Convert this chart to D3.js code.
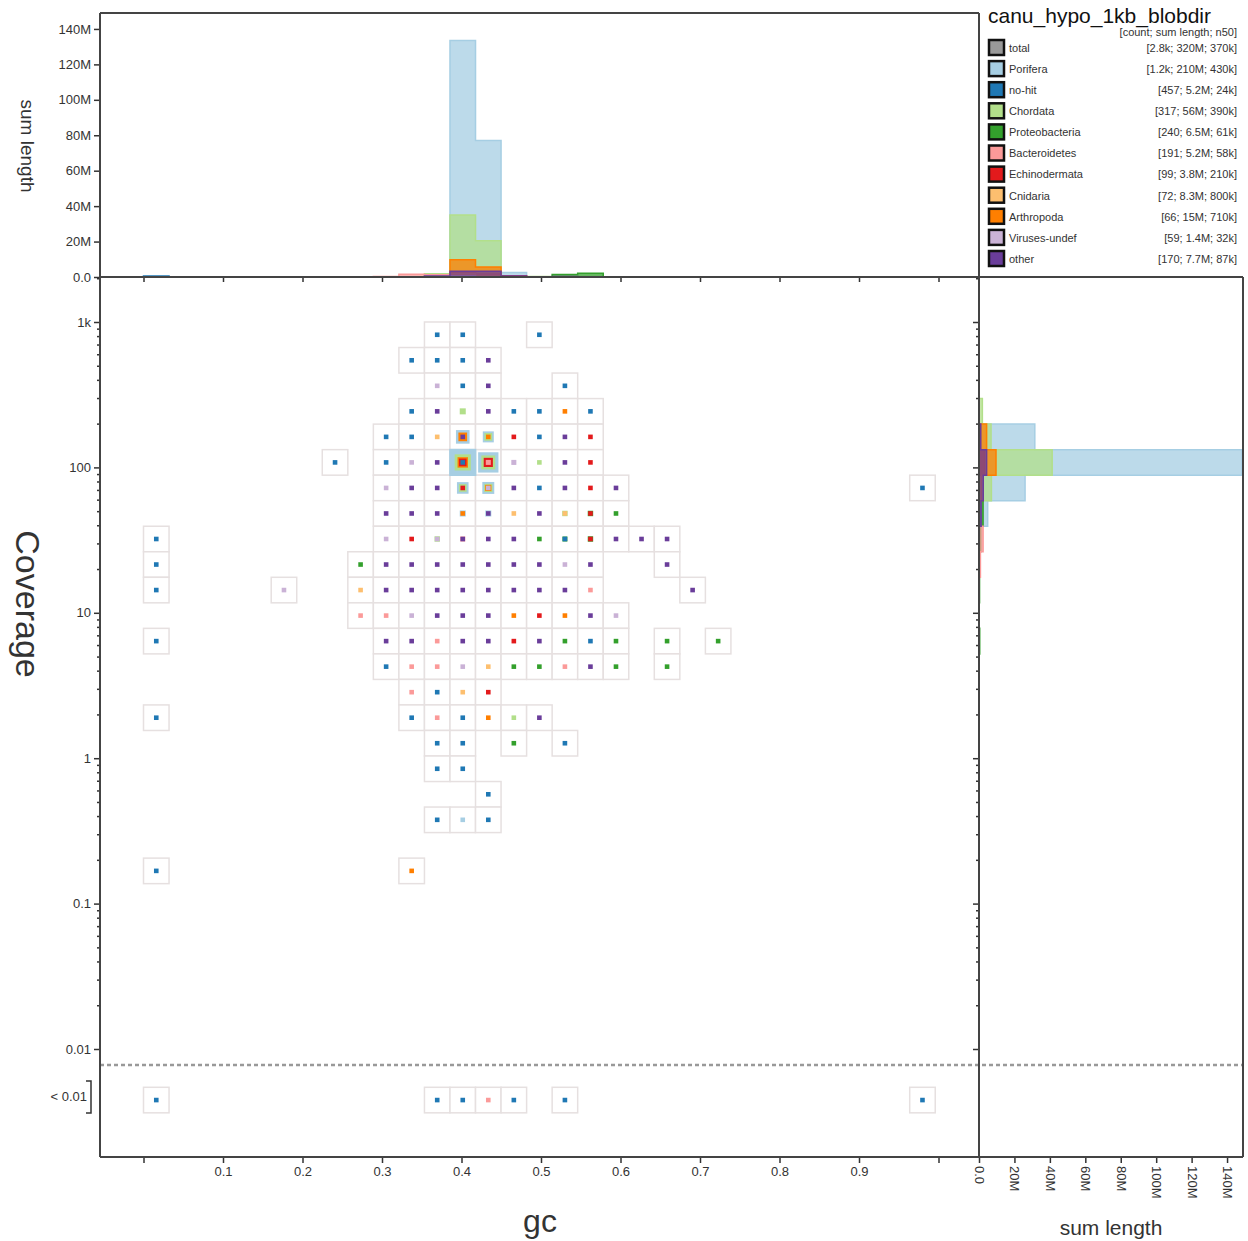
<!DOCTYPE html>
<html><head><meta charset="utf-8">
<script src="https://cdn.jsdelivr.net/npm/d3@7"></script>
<style>
body{margin:0;background:#fff}
text{font-family:"Liberation Sans",Arial,sans-serif;fill:#333}
</style>
</head><body>
<svg id="chart" width="1248" height="1241"></svg>
<script>
// ---------------- DATA ----------------
const P="Porifera",NH="no-hit",CH="Chordata",PR="Proteobacteria",BA="Bacteroidetes",
      EC="Echinodermata",CN="Cnidaria",AR="Arthropoda",VI="Viruses-undef",OT="other";
const categories=[P,NH,CH,PR,BA,EC,CN,AR,VI,OT];
const catColors=["#a6cee3","#1f78b4","#b2df8a","#33a02c","#fb9a99","#e31a1c","#fdbf6f","#ff7f00","#cab2d6","#6a3d9a"];
const legendLabels=["total",...categories];
const legendColors=["#999999",...catColors];
const legendStats=["[2.8k; 320M; 370k]","[1.2k; 210M; 430k]","[457; 5.2M; 24k]","[317; 56M; 390k]",
  "[240; 6.5M; 61k]","[191; 5.2M; 58k]","[99; 3.8M; 210k]","[72; 8.3M; 800k]","[66; 15M; 710k]",
  "[59; 1.4M; 32k]","[170; 7.7M; 87k]"];
const gcTicks=[0,0.1,0.2,0.3,0.4,0.5,0.6,0.7,0.8,0.9,1.0];
const covMajorTicks=[0.01,0.1,1,10,100,1000];
const covTickLabels=["0.01","0.1","1","10","100","1k"];
const sumTicks=[0,20,40,60,80,100,120,140]; // millions

// grid bins: [gc column, coverage row, category, sum length (M)]
const gridCells=[
 [11,0,NH,.5],[12,0,NH,.5],[15,0,NH,.5],
 [10,1,NH,.5],[11,1,NH,.5],[12,1,NH,.5],[13,1,OT,.5],
 [11,2,VI,.5],[12,2,NH,.5],[13,2,OT,.5],[16,2,NH,.5],
 [10,3,NH,.5],[11,3,OT,.5],[12,3,CH,4.3],[13,3,OT,.5],[14,3,NH,.5],[15,3,NH,.5],[16,3,AR,.6],[17,3,NH,.5],
 [9,4,NH,.5],[10,4,NH,.5],[11,4,CN,.6],[12,4,P,22],[12,4,AR,9],[12,4,OT,2.2],[13,4,P,14.4],[13,4,CH,7],[13,4,AR,2],
 [14,4,EC,.6],[15,4,NH,.5],[16,4,OT,.5],[17,4,EC,.5],
 [7,5,NH,.5],[9,5,NH,.5],[10,5,VI,.6],[11,5,OT,.5],[12,5,P,88],[12,5,CH,31],[12,5,AR,13],[12,5,EC,7],[12,5,NH,2.2],
 [13,5,P,49],[13,5,CH,23],[13,5,EC,10],[13,5,BA,3],[14,5,VI,3],[15,5,CH,1.5],[16,5,OT,.5],[17,5,EC,.6],
 [9,6,VI,.5],[10,6,OT,.5],[11,6,OT,.5],[12,6,P,16],[12,6,CH,7],[12,6,EC,2.4],[13,6,P,17],[13,6,CH,8],[13,6,AR,4.5],[13,6,VI,2.5],
 [14,6,OT,.6],[15,6,NH,.5],[16,6,OT,.6],[17,6,EC,.6],[18,6,OT,.5],[30,6,NH,.5],
 [9,7,OT,.6],[10,7,OT,.6],[11,7,OT,.6],[12,7,P,4.3],[12,7,AR,2.4],[13,7,P,4.3],[13,7,OT,2],[14,7,CN,.8],[15,7,OT,.4],
 [16,7,CH,3.5],[16,7,CN,2],[17,7,PR,3.5],[17,7,EC,2],[18,7,PR,.5],
 [0,8,NH,.5],[9,8,VI,.6],[10,8,EC,.6],[11,8,CH,3.5],[11,8,VI,2],[12,8,BA,3],[12,8,OT,2],[13,8,OT,.6],[14,8,OT,.6],[15,8,PR,.5],
 [16,8,PR,3],[16,8,NH,2],[17,8,PR,3.5],[17,8,EC,2],[18,8,OT,.5],[19,8,OT,.5],[20,8,OT,.5],
 [0,9,NH,.5],[8,9,PR,.5],[9,9,OT,.5],[10,9,OT,.5],[11,9,OT,.5],[12,9,OT,.5],[13,9,OT,.5],[14,9,OT,.5],[15,9,OT,.5],
 [16,9,VI,.5],[17,9,OT,.5],[20,9,OT,.5],
 [0,10,NH,.5],[5,10,VI,.5],[8,10,CN,.5],[9,10,OT,.5],[10,10,OT,.5],[11,10,OT,.5],[12,10,OT,.5],[13,10,OT,.5],[14,10,OT,.5],
 [15,10,OT,.5],[16,10,OT,.5],[17,10,BA,.5],[21,10,OT,.5],
 [8,11,BA,.5],[9,11,BA,.5],[10,11,VI,.5],[11,11,OT,.5],[12,11,OT,.5],[13,11,OT,.5],[14,11,AR,.5],[15,11,EC,.5],[16,11,AR,.5],
 [17,11,OT,.5],[18,11,VI,.5],
 [0,12,NH,.5],[9,12,OT,.5],[10,12,OT,.5],[11,12,BA,.5],[12,12,OT,.5],[13,12,OT,.5],[14,12,EC,.5],[15,12,OT,.5],[16,12,PR,.5],
 [17,12,NH,.5],[18,12,PR,.5],[20,12,PR,.5],[22,12,PR,.5],
 [9,13,NH,.5],[10,13,BA,.5],[11,13,BA,.5],[12,13,VI,.5],[13,13,CN,.5],[14,13,PR,.5],[15,13,PR,.5],[16,13,BA,.5],[17,13,OT,.5],
 [18,13,PR,.5],[20,13,PR,.5],
 [10,14,BA,.5],[11,14,NH,.5],[12,14,CN,.5],[13,14,EC,.5],
 [0,15,NH,.5],[10,15,NH,.5],[11,15,BA,.5],[12,15,NH,.5],[13,15,AR,.5],[14,15,CH,.5],[15,15,OT,.5],
 [11,16,NH,.5],[12,16,NH,.5],[14,16,PR,.5],[16,16,NH,.5],
 [11,17,NH,.5],[12,17,NH,.5],
 [13,18,NH,.5],
 [11,19,NH,.5],[12,19,P,.5],[13,19,NH,.5],
 [0,21,NH,.5],[10,21,AR,.5]
];
// bins with coverage < 0.01: [gc column, category, sum length (M)]
const lowCells=[[0,NH,.5],[11,NH,.5],[12,NH,.5],[13,BA,.5],[14,NH,.5],[16,NH,.5],[30,NH,.5]];

// gc histogram: [category, gc column, sum length (M)]
const gcHist=[
 [P,12,133.5],[P,13,77],[P,14,2.6],
 [NH,0,0.6],[NH,12,2],[NH,13,1],
 [CH,11,1.9],[CH,12,35],[CH,13,20.5],[CH,15,0.3],
 [PR,16,1.4],[PR,17,2.1],
 [BA,7,0.2],[BA,8,0.2],[BA,9,0.3],[BA,10,1.5],[BA,11,1.2],
 [EC,12,2.5],[EC,13,1.5],[EC,14,0.5],
 [CN,12,2],[CN,13,1],
 [AR,12,9.8],[AR,13,5.6],
 [VI,11,0.3],[VI,12,0.5],
 [OT,11,0.5],[OT,12,3.2],[OT,13,3.2],[OT,14,0.5],[OT,16,0.3]
];
// coverage histogram: [category, coverage row, sum length (M)]
const covHist=[
 [P,4,31.5],[P,5,148.5],[P,6,26],[P,7,4.9],
 [NH,5,2],
 [CH,3,1.9],[CH,4,6.8],[CH,5,41.3],[CH,6,7],[CH,9,0.5],
 [PR,7,2.3],[PR,8,1],[PR,10,0.3],[PR,12,0.4],
 [BA,8,2.3],[BA,9,0.8],
 [EC,5,3],
 [AR,4,4.3],[AR,5,9.6],[AR,6,1.5],
 [OT,4,1],[OT,5,4.3],[OT,6,2.4],[OT,7,1.2]
];

// ---------------- LAYOUT ----------------
const L=100, R=979, T=277, B=1157, HT=13, RR=1243;
const GC_BIN=0.032126, LOG_BIN=0.17558;
const LOW_COV=Math.pow(10,-2-2*LOG_BIN);
const CUTOFF_COV=Math.pow(10,-2.11);
const color=d3.scaleOrdinal(categories,catColors);

const x=d3.scaleLinear([0,1],[143.5,938.5]);
const y=d3.scaleLog([0.01,1000],[1049,322]);
const sumTop=d3.scaleLinear([0,149],[T,HT]);
const sumRight=d3.scaleLinear([0,149],[R,RR]);
const size=d3.scaleSqrt([0,100],[0,29]);
const cellPx=x(GC_BIN)-x(0);

const svg=d3.select("#chart");
const colX=c=>x((c+0.5)*GC_BIN);
const rowY=r=>r==="low"?y(LOW_COV):y(Math.pow(10,3-(r+0.5)*LOG_BIN));
const rowTop=r=>y(Math.pow(10,3-r*LOG_BIN));

// ---------------- GRID ----------------
const allCells=gridCells.map(d=>({col:d[0],row:d[1],cat:d[2],v:d[3]}))
  .concat(lowCells.map(d=>({col:d[0],row:"low",cat:d[1],v:d[2]})));
const groups=d3.groups(allCells,d=>d.col+"|"+d.row);
const gGrid=svg.append("g");
gGrid.selectAll("rect.cell").data(groups).join("rect").attr("class","cell")
  .attr("x",d=>colX(d[1][0].col)-cellPx/2).attr("y",d=>rowY(d[1][0].row)-cellPx/2)
  .attr("width",cellPx).attr("height",cellPx)
  .attr("fill","#fff").attr("stroke","#e6e0e0").attr("stroke-width",1.5);
const squares=[];
groups.forEach(g=>{g[1].slice().sort((a,b)=>b.v-a.v).forEach(d=>squares.push(d));});
gGrid.selectAll("rect.sq").data(squares).join("rect").attr("class","sq")
  .attr("x",d=>colX(d.col)-Math.max(4.6,size(d.v))/2)
  .attr("y",d=>rowY(d.row)-Math.max(4.6,size(d.v))/2)
  .attr("width",d=>Math.max(4.6,size(d.v))).attr("height",d=>Math.max(4.6,size(d.v)))
  .attr("fill",d=>color(d.cat));

// ---------------- HISTOGRAMS ----------------
const gTop=svg.append("g");
categories.forEach(cat=>{
  const rows=gcHist.filter(d=>d[0]===cat);
  if(!rows.length) return;
  const lo=d3.min(rows,d=>d[1]), hi=d3.max(rows,d=>d[1]);
  const pts=[];
  for(let c=lo;c<=hi+1;c++){const f=rows.find(d=>d[1]===c);pts.push({c,v:f?f[2]:0});}
  const area=d3.area().curve(d3.curveStepAfter).x(d=>x(d.c*GC_BIN)).y0(sumTop(0)).y1(d=>sumTop(d.v));
  gTop.append("path").attr("d",area(pts)).attr("fill",color(cat)).attr("fill-opacity",0.75)
    .attr("stroke",color(cat)).attr("stroke-width",1.5);
});
const gRight=svg.append("g");
categories.forEach(cat=>{
  const rows=covHist.filter(d=>d[0]===cat);
  if(!rows.length) return;
  const lo=d3.min(rows,d=>d[1]), hi=d3.max(rows,d=>d[1]);
  const pts=[];
  for(let r=lo;r<=hi+1;r++){const f=rows.find(d=>d[1]===r);pts.push({r,v:f?f[2]:0});}
  const area=d3.area().curve(d3.curveStepBefore).y(d=>rowTop(d.r)).x0(sumRight(0)).x1(d=>sumRight(d.v));
  gRight.append("path").attr("d",area(pts)).attr("fill",color(cat)).attr("fill-opacity",0.75)
    .attr("stroke",color(cat)).attr("stroke-width",1.5);
});

// cutoff dashed line
svg.append("line").attr("x1",L).attr("x2",RR).attr("y1",y(CUTOFF_COV)).attr("y2",y(CUTOFF_COV))
  .attr("stroke","#999").attr("stroke-width",2.5).attr("stroke-dasharray","4,3");

// ---------------- AXES ----------------
const covTicks=[];
[-2,-1,0,1,2,3].forEach(e=>{for(let m=1;m<=9;m++){const v=m*Math.pow(10,e);if(v<=2000)covTicks.push(v);}});
const isMajor=v=>covMajorTicks.some(t=>Math.abs(t-v)/t<1e-6);
const covFmt=v=>{const i=covMajorTicks.findIndex(t=>Math.abs(t-v)/t<1e-6);return i>=0?covTickLabels[i]:"";};
function styleAxis(g){
  g.select(".domain").remove();
  g.selectAll(".tick line").attr("stroke","#333").attr("stroke-width",1.5);
  g.selectAll(".tick text").attr("fill","#333").style("font-size","13px").style("font-family","Liberation Sans, Arial, sans-serif");
}
// main left
const gyL=svg.append("g").attr("transform",`translate(${L},0)`)
  .call(d3.axisLeft(y).tickValues(covTicks).tickFormat(covFmt).tickSize(6).tickPadding(3));
styleAxis(gyL);
gyL.selectAll(".tick").filter(d=>!isMajor(d)).select("line").attr("x2",-3);
// right panel left ticks
const gyR=svg.append("g").attr("transform",`translate(${R},0)`)
  .call(d3.axisLeft(y).tickValues(covTicks).tickFormat("").tickSize(6));
styleAxis(gyR);
gyR.selectAll(".tick").filter(d=>!isMajor(d)).select("line").attr("x2",-3);
// main bottom
const gxB=svg.append("g").attr("transform",`translate(0,${B})`)
  .call(d3.axisBottom(x).tickValues(gcTicks).tickFormat(d=>(d===0||d===1)?"":d3.format(".1f")(d)).tickSize(6).tickPadding(4));
styleAxis(gxB);
// top hist bottom ticks
const gxT=svg.append("g").attr("transform",`translate(0,${T})`)
  .call(d3.axisBottom(x).tickValues(gcTicks).tickFormat("").tickSize(5));
styleAxis(gxT);
// top hist left
const sumFmt=d=>d===0?"0.0":d+"M";
const gsT=svg.append("g").attr("transform",`translate(${L},0)`)
  .call(d3.axisLeft(sumTop).tickValues(sumTicks).tickFormat(sumFmt).tickSize(6).tickPadding(3));
styleAxis(gsT);
// right hist bottom
const gsR=svg.append("g").attr("transform",`translate(0,${B})`)
  .call(d3.axisBottom(sumRight).tickValues(sumTicks).tickFormat(sumFmt).tickSize(6));
styleAxis(gsR);
gsR.selectAll(".tick text").attr("transform","rotate(90)").attr("text-anchor","start")
  .attr("x",9).attr("y",0).attr("dy","0.35em");

// frame lines
const frame=[[L,HT,L,B],[L,HT,R,HT],[R,HT,R,B],[L,T,RR,T],[L,B,RR,B],[RR,T,RR,B]];
svg.append("g").selectAll("line").data(frame).join("line")
  .attr("x1",d=>d[0]).attr("y1",d=>d[1]).attr("x2",d=>d[2]).attr("y2",d=>d[3])
  .attr("stroke","#444").attr("stroke-width",2);

// <0.01 bracket
const ly=y(LOW_COV);
svg.append("path").attr("d",`M${L-14},${ly-19}H${L-9}V${ly+13}H${L-14}`)
  .attr("fill","none").attr("stroke","#333").attr("stroke-width",1.5);
svg.append("text").attr("x",L-13).attr("y",ly-4).attr("dy","0.35em").attr("text-anchor","end")
  .style("font-size","13px").text("< 0.01");

// axis titles
svg.append("text").attr("transform",`translate(21,146) rotate(90)`).attr("text-anchor","middle")
  .style("font-size","19px").text("sum length");
svg.append("text").attr("transform",`translate(16,604) rotate(90)`).attr("text-anchor","middle")
  .style("font-size","34px").text("Coverage");
svg.append("text").attr("x",540).attr("y",1232).attr("text-anchor","middle")
  .style("font-size","32px").text("gc");
svg.append("text").attr("x",1111).attr("y",1235).attr("text-anchor","middle")
  .style("font-size","21px").text("sum length");

// ---------------- LEGEND ----------------
svg.append("text").attr("x",988).attr("y",23).style("font-size","21px").style("fill","#111").text("canu_hypo_1kb_blobdir");
svg.append("text").attr("x",1237).attr("y",36).attr("text-anchor","end").style("font-size","11px").text("[count; sum length; n50]");
const leg=svg.append("g").selectAll("g").data(legendLabels).join("g")
  .attr("transform",(d,i)=>`translate(988,${48+i*21.1})`);
leg.append("rect").attr("x",1).attr("y",-8).attr("width",15).attr("height",15)
  .attr("fill",(d,i)=>legendColors[i]).attr("stroke","#111").attr("stroke-width",2.5);
leg.append("text").attr("x",21).attr("y",0).attr("dy","0.35em").style("font-size","11px").text(d=>d);
leg.append("text").attr("x",249).attr("y",0).attr("dy","0.35em").attr("text-anchor","end")
  .style("font-size","11px").text((d,i)=>legendStats[i]);
</script>
</body></html>
